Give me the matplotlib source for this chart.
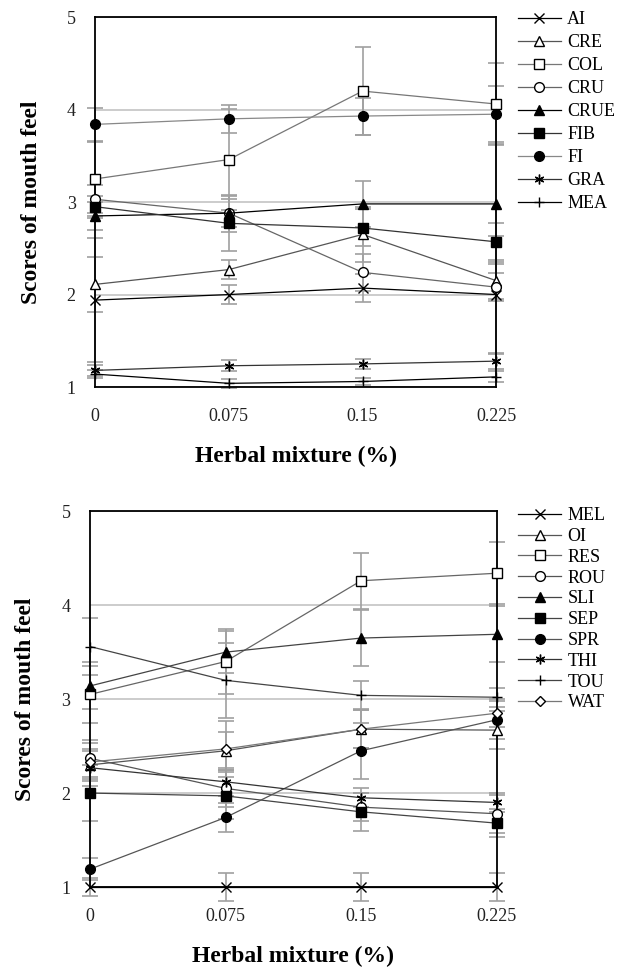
import numpy as np
import matplotlib
matplotlib.use("Agg")
import matplotlib.pyplot as plt

plt.rcParams['font.family'] = ['Liberation Serif', 'DejaVu Serif']

# Shared x axis
herbal = [0, 0.075, 0.15, 0.225]
herbal_labels = ["0", "0.075", "0.15", "0.225"]

# Top panel: mouth feel attributes
top_names = ["AI", "CRE", "COL", "CRU", "CRUE", "FIB", "FI", "GRA", "MEA"]
top_means = [
    [1.94, 2.00, 2.07, 2.00],   # AI
    [2.11, 2.27, 2.65, 2.15],   # CRE
    [3.25, 3.46, 4.20, 4.06],   # COL
    [3.03, 2.88, 2.24, 2.08],   # CRU
    [2.85, 2.88, 2.98, 2.98],   # CRUE
    [2.95, 2.77, 2.72, 2.57],   # FIB
    [3.84, 3.90, 3.93, 3.95],   # FI
    [1.18, 1.23, 1.25, 1.28],   # GRA
    [1.14, 1.04, 1.06, 1.11],   # MEA
]
top_err = [
    [0.67, 0.10, 0.15, 0.63],
    [0.30, 0.10, 0.30, 0.20],
    [0.40, 0.55, 0.48, 0.44],
    [0.15, 0.15, 0.20, 0.15],
    [0.15, 0.20, 0.25, 0.65],
    [0.12, 0.30, 0.20, 0.20],
    [0.18, 0.15, 0.20, 0.30],
    [0.06, 0.06, 0.05, 0.08],
    [0.04, 0.05, 0.04, 0.06],
]

# Bottom panel
bot_names = ["MEL", "OI", "RES", "ROU", "SLI", "SEP", "SPR", "THI", "TOU", "WAT"]
bot_means = [
    [1.00, 1.00, 1.00, 1.00],   # MEL
    [2.30, 2.45, 2.68, 2.67],   # OI
    [3.05, 3.40, 4.26, 4.34],   # RES
    [2.37, 2.05, 1.85, 1.78],   # ROU
    [3.14, 3.50, 3.65, 3.69],   # SLI
    [2.00, 1.97, 1.80, 1.68],   # SEP
    [1.19, 1.74, 2.45, 2.78],   # SPR
    [2.27, 2.12, 1.95, 1.90],   # THI
    [3.56, 3.20, 3.04, 3.02],   # TOU
    [2.33, 2.47, 2.68, 2.85],   # WAT
]
bot_err = [
    [0.10, 0.15, 0.15, 0.15],
    [0.15, 0.20, 0.20, 0.20],
    [0.30, 0.35, 0.30, 0.33],
    [0.20, 0.20, 0.15, 0.20],
    [0.25, 0.22, 0.30, 0.30],
    [0.30, 0.25, 0.20, 0.15],
    [0.12, 0.15, 0.30, 0.20],
    [0.20, 0.15, 0.10, 0.10],
    [0.30, 0.40, 0.15, 0.10],
    [0.20, 0.30, 0.20, 0.15],
]

# styles: (marker, filled, line colour)
asterisk = (6, 2, 0)
top_style = [
    ('x', False, 'black'), ('^', False, '#555555'), ('s', False, '#777777'),
    ('o', False, '#666666'), ('^', True, 'black'), ('s', True, '#333333'),
    ('o', True, '#888888'), (asterisk, False, '#333333'), ('+', False, 'black'),
]
bot_style = [
    ('x', False, 'black'), ('^', False, '#555555'), ('s', False, '#666666'),
    ('o', False, '#555555'), ('^', True, '#444444'), ('s', True, '#444444'),
    ('o', True, '#555555'), (asterisk, False, '#333333'), ('+', False, '#444444'),
    ('D', False, '#777777'),
]


def draw_panel(ax, names, means, errs, styles, spacing, top):
    for name, m, e, (mk, filled, col) in zip(names, means, errs, styles):
        ms = 5 if mk == 'D' else 7
        ax.errorbar(herbal, m, yerr=e, fmt='none',
                    ecolor='#a0a0a0', elinewidth=1.2, capsize=6, capthick=1.2,
                    clip_on=False, zorder=2)
        ax.plot(herbal, m, color=col, lw=0.9, marker=mk, ms=ms, mew=1.0,
                mfc='black' if filled else 'white', mec='black',
                label=name, clip_on=False, zorder=3)
    ax.set_xlim(0, 0.225)
    ax.set_ylim(1, 5)
    ax.set_xticks(herbal)
    ax.set_xticklabels(herbal_labels)
    ax.set_yticks([1, 2, 3, 4, 5])
    ax.tick_params(length=0, labelsize=13, colors='#222222')
    ax.tick_params(axis='x', pad=15)
    ax.tick_params(axis='y', pad=14)
    ax.grid(axis='y', color='#c8c8c8', lw=1.3)
    ax.set_axisbelow(True)
    for s in ax.spines.values():
        s.set_color('black')
        s.set_linewidth(1.3)
    ax.set_ylabel("Scores of mouth feel", fontsize=17, fontweight='bold', labelpad=18)
    ax.set_xlabel("Herbal mixture (%)", fontsize=17, fontweight='bold', labelpad=15)
    ax.legend(loc='upper left', bbox_to_anchor=(1.035, top), frameon=False,
              fontsize=13, handlelength=2.4, labelspacing=spacing, handletextpad=0.35,
              borderaxespad=0)


fig = plt.figure(figsize=(6.18, 9.71), dpi=100)
ax1 = fig.add_axes([0.154, 0.6014, 0.649, 0.381])
ax2 = fig.add_axes([0.1456, 0.0865, 0.658, 0.387])

draw_panel(ax1, top_names, top_means, top_err, top_style, 0.33, 1.035)
draw_panel(ax2, bot_names, bot_means, bot_err, bot_style, 0.21, 1.03)

fig.savefig("out.png", dpi=100)
